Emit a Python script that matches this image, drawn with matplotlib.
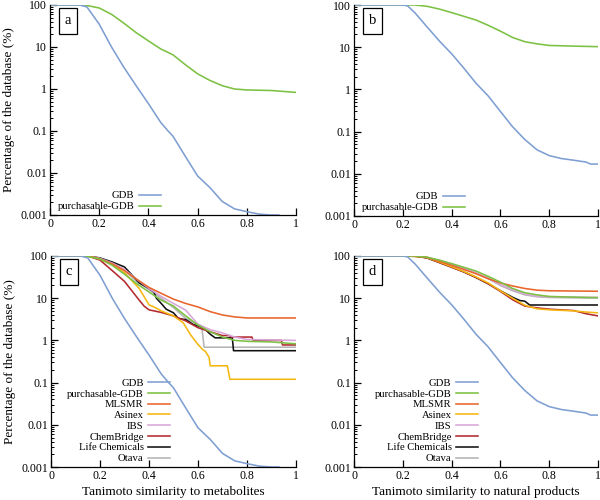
import matplotlib
matplotlib.use("Agg")
import matplotlib.pyplot as plt
from matplotlib.ticker import LogLocator, FixedLocator, NullFormatter

plt.rcParams['font.family'] = ['Liberation Serif', 'DejaVu Serif']

# ---------------- data ----------------
series_names = ["GDB", "purchasable-GDB", "MLSMR", "Asinex", "IBS",
                "ChemBridge", "Life Chemicals", "Otava"]
series_colors = ["#7f9fd2", "#7cc143", "#e8652b", "#f5b712", "#d9a6d9",
                 "#b3292e", "#111111", "#b5b5b5"]

# similarity to metabolites
gdb_met_x = [0, 0.12, 0.15, 0.2, 0.25, 0.3, 0.35, 0.4, 0.45, 0.48, 0.5, 0.55,
             0.6, 0.65, 0.7, 0.75, 0.8, 0.85, 0.9, 0.93]
gdb_met_y = [100, 100, 90, 35, 10, 3.3, 1.2, 0.45, 0.16, 0.1, 0.075, 0.025,
             0.0085, 0.0045, 0.0021, 0.0014, 0.0012, 0.00105, 0.001, 0.001]
pgdb_met_x = [0, 0.14, 0.2, 0.25, 0.3, 0.35, 0.4, 0.45, 0.5, 0.55, 0.6, 0.65,
              0.7, 0.75, 0.8, 0.9, 1.0]
pgdb_met_y = [100, 100, 85, 60, 37, 22, 14, 9, 6.5, 3.8, 2.3, 1.6, 1.2, 1.0,
              0.95, 0.92, 0.83]
mlsmr_met_x = [0, 0.15, 0.2, 0.25, 0.3, 0.35, 0.4, 0.45, 0.5, 0.55, 0.6, 0.65,
               0.7, 0.75, 0.8, 0.9, 1.0]
mlsmr_met_y = [100, 100, 85, 65, 45, 28, 18, 13, 9.5, 7.5, 6.2, 4.8, 4.0, 3.6,
               3.4, 3.4, 3.4]
asinex_met_x = [0, 0.15, 0.2, 0.25, 0.3, 0.36, 0.4, 0.43, 0.45, 0.5, 0.54,
                0.57, 0.6, 0.62, 0.63, 0.645, 0.65, 0.72, 0.73, 1.0]
asinex_met_y = [100, 100, 85, 62, 40, 17, 7, 5.8, 5.0, 3.8, 2.6, 1.35, 0.8,
                0.6, 0.55, 0.4, 0.25, 0.25, 0.12, 0.12]
ibs_met_x = [0, 0.15, 0.2, 0.25, 0.3, 0.35, 0.4, 0.45, 0.5, 0.55, 0.6, 0.65,
             0.7, 0.75, 0.8, 1.0]
ibs_met_y = [100, 100, 88, 68, 48, 28, 17, 11, 7.5, 5.2, 2.4, 1.8, 1.5, 1.2,
             1.05, 1.0]
chem_met_x = [0, 0.15, 0.2, 0.25, 0.3, 0.33, 0.36, 0.38, 0.4, 0.45, 0.5, 0.55,
              0.6, 0.65, 0.7, 0.73, 0.735, 0.82, 0.825, 0.94, 0.945, 1.0]
chem_met_y = [100, 100, 80, 45, 25, 15, 9, 6.5, 5.3, 4.6, 3.8, 2.9, 2.0, 1.6,
              1.3, 1.3, 1.2, 1.2, 1.0, 1.0, 0.78, 0.78]
life_met_x = [0, 0.15, 0.2, 0.25, 0.3, 0.36, 0.4, 0.42, 0.43, 0.45, 0.47, 0.5,
              0.52, 0.55, 0.58, 0.61, 0.63, 0.65, 0.67, 0.74, 0.745, 1.0]
life_met_y = [100, 100, 90, 72, 55, 23, 17, 14, 10, 7.5, 5.5, 4.5, 3.3, 3.1,
              2.4, 2.1, 1.8, 1.4, 1.15, 1.15, 0.57, 0.57]
otava_met_x = [0, 0.15, 0.2, 0.25, 0.3, 0.35, 0.4, 0.45, 0.5, 0.55, 0.6,
               0.615, 0.625, 1.0]
otava_met_y = [100, 100, 88, 68, 45, 25, 16, 10, 6.0, 3.3, 2.4, 2.2, 0.69, 0.69]

# similarity to natural products
gdb_np_x = [0, 0.2, 0.22, 0.25, 0.3, 0.35, 0.4, 0.45, 0.5, 0.55, 0.6, 0.65,
            0.7, 0.75, 0.8, 0.85, 0.9, 0.95, 0.97, 1.0]
gdb_np_y = [100, 100, 95, 65, 30, 14, 7, 3.2, 1.4, 0.7, 0.3, 0.13, 0.065,
            0.037, 0.027, 0.023, 0.021, 0.019, 0.017, 0.017]
pgdb_np_x = [0, 0.25, 0.3, 0.35, 0.4, 0.45, 0.5, 0.55, 0.6, 0.65, 0.7, 0.75,
             0.8, 0.9, 1.0]
pgdb_np_y = [100, 100, 93, 80, 66, 54, 44, 33, 24, 17, 13.5, 12, 11, 10.6,
             10.3]
mlsmr_np_x = [0, 0.22, 0.3, 0.35, 0.4, 0.45, 0.5, 0.55, 0.6, 0.65, 0.7, 0.75,
              0.8, 0.9, 1.0]
mlsmr_np_y = [100, 100, 92, 75, 60, 48, 38, 29, 23, 19.5, 17, 15.5, 15, 14.8,
              14.6]
vend_np_x = [0, 0.25, 0.3, 0.35, 0.4, 0.45, 0.5, 0.55, 0.6, 0.65, 0.7, 0.75,
             0.8, 0.9, 0.95, 1.0]
asinex_np_y = [100, 100, 92, 72, 56, 43, 32, 23, 15, 10, 6.8, 5.6, 5.3, 5.0,
               4.7, 4.5]
chem_np_y = [100, 100, 90, 70, 54, 42, 31, 22, 14.5, 9.2, 6.5, 5.9, 5.5, 5.1,
             4.3, 3.8]
ibs_np_y = [100, 100, 93, 78, 65, 52, 40, 30, 21, 16, 12.5, 11.2, 10.8, 10.6,
            10.5, 10.5]
otava_np_y = [100, 100, 93, 78, 64, 51, 39, 29, 20, 15, 12, 10.8, 10.4, 10.2,
              10.1, 10.1]
life_np_x = [0, 0.25, 0.3, 0.35, 0.4, 0.45, 0.5, 0.55, 0.6, 0.65, 0.68, 0.7,
             0.72, 1.0]
life_np_y = [100, 100, 90, 70, 55, 42, 31, 22, 15, 10.5, 8.8, 8.5, 6.9, 6.9]

x_ticks = [0, 0.2, 0.4, 0.6, 0.8, 1.0]
x_ticklabels = ["0", "0.2", "0.4", "0.6", "0.8", "1"]
y_ticks = [0.001, 0.01, 0.1, 1, 10, 100]
y_ticklabels = ["0.001", "0.01", "0.1", "1", "10", "100"]
panel_letters = ["a", "b", "c", "d"]
ylabel_text = "Percentage of the database (%)"
xlabel_met = "Tanimoto similarity to metabolites"
xlabel_np = "Tanimoto similarity to natural products"

panels = [
    [(gdb_met_x, gdb_met_y), (pgdb_met_x, pgdb_met_y)],
    [(gdb_np_x, gdb_np_y), (pgdb_np_x, pgdb_np_y)],
    [(gdb_met_x, gdb_met_y), (pgdb_met_x, pgdb_met_y),
     (mlsmr_met_x, mlsmr_met_y), (asinex_met_x, asinex_met_y),
     (ibs_met_x, ibs_met_y), (chem_met_x, chem_met_y),
     (life_met_x, life_met_y), (otava_met_x, otava_met_y)],
    [(gdb_np_x, gdb_np_y), (pgdb_np_x, pgdb_np_y),
     (mlsmr_np_x, mlsmr_np_y), (vend_np_x, asinex_np_y),
     (vend_np_x, ibs_np_y), (vend_np_x, chem_np_y),
     (life_np_x, life_np_y), (vend_np_x, otava_np_y)],
]

W, H = 600, 500
fig = plt.figure(figsize=(6, 5), dpi=100)
rects = [
    (50, 5, 296, 215),
    (354, 5, 598, 216),
    (51, 256, 296, 467),
    (354, 256, 598, 467),
]
legend_x = [0.016, 0.016, 0.05, 0.07]

for i, (l, t, r, b) in enumerate(rects):
    ax = fig.add_axes([l / W, 1 - b / H, (r - l) / W, (b - t) / H])
    data = panels[i]
    for k in reversed(range(len(data))):
        xs, ys = data[k]
        ax.plot(xs, ys, color=series_colors[k], lw=1.15, label=series_names[k],
                zorder=2 + (len(data) - k) * 0.01)
    ax.set_yscale('log')
    ax.set_xlim(0, 1)
    ax.set_ylim(0.001, 100)
    ax.xaxis.set_major_locator(FixedLocator(x_ticks))
    ax.set_xticklabels(x_ticklabels)
    ax.yaxis.set_major_locator(FixedLocator(y_ticks))
    ax.set_yticklabels(y_ticklabels)
    ax.yaxis.set_minor_locator(LogLocator(base=10, subs=[2, 3, 4, 5, 6, 7, 8, 9]))
    ax.yaxis.set_minor_formatter(NullFormatter())
    ax.tick_params(which='major', direction='in', length=5, width=0.9,
                   labelsize=8.5, pad=2)
    ax.tick_params(which='minor', direction='in', length=2.5, width=0.7)
    for s in ['top', 'right']:
        ax.spines[s].set_visible(False)
    for s in ['left', 'bottom']:
        ax.spines[s].set_linewidth(0.9)
    ax.text(0.06, 0.955, panel_letters[i], transform=ax.transAxes,
            fontsize=10.5, ha='left', va='top',
            bbox=dict(boxstyle='square,pad=0.42', fc='white', ec='black', lw=0.9))
    if i % 2 == 0:
        ax.set_ylabel(ylabel_text, fontsize=9.5, labelpad=4)
    if i == 2:
        ax.set_xlabel(xlabel_met, fontsize=9.5, labelpad=3)
    if i == 3:
        ax.set_xlabel(xlabel_np, fontsize=9.5, labelpad=3)
    handles, labels = ax.get_legend_handles_labels()
    handles = handles[::-1]
    labels = labels[::-1]
    ax.legend(handles, labels, loc='lower left', bbox_to_anchor=(legend_x[i], 0.0),
              frameon=False, markerfirst=False, fontsize=7.7,
              handlelength=2.1, handletextpad=0.4, labelspacing=0.12,
              borderaxespad=0.15, borderpad=0.2)

fig.savefig("out.png", dpi=100)
